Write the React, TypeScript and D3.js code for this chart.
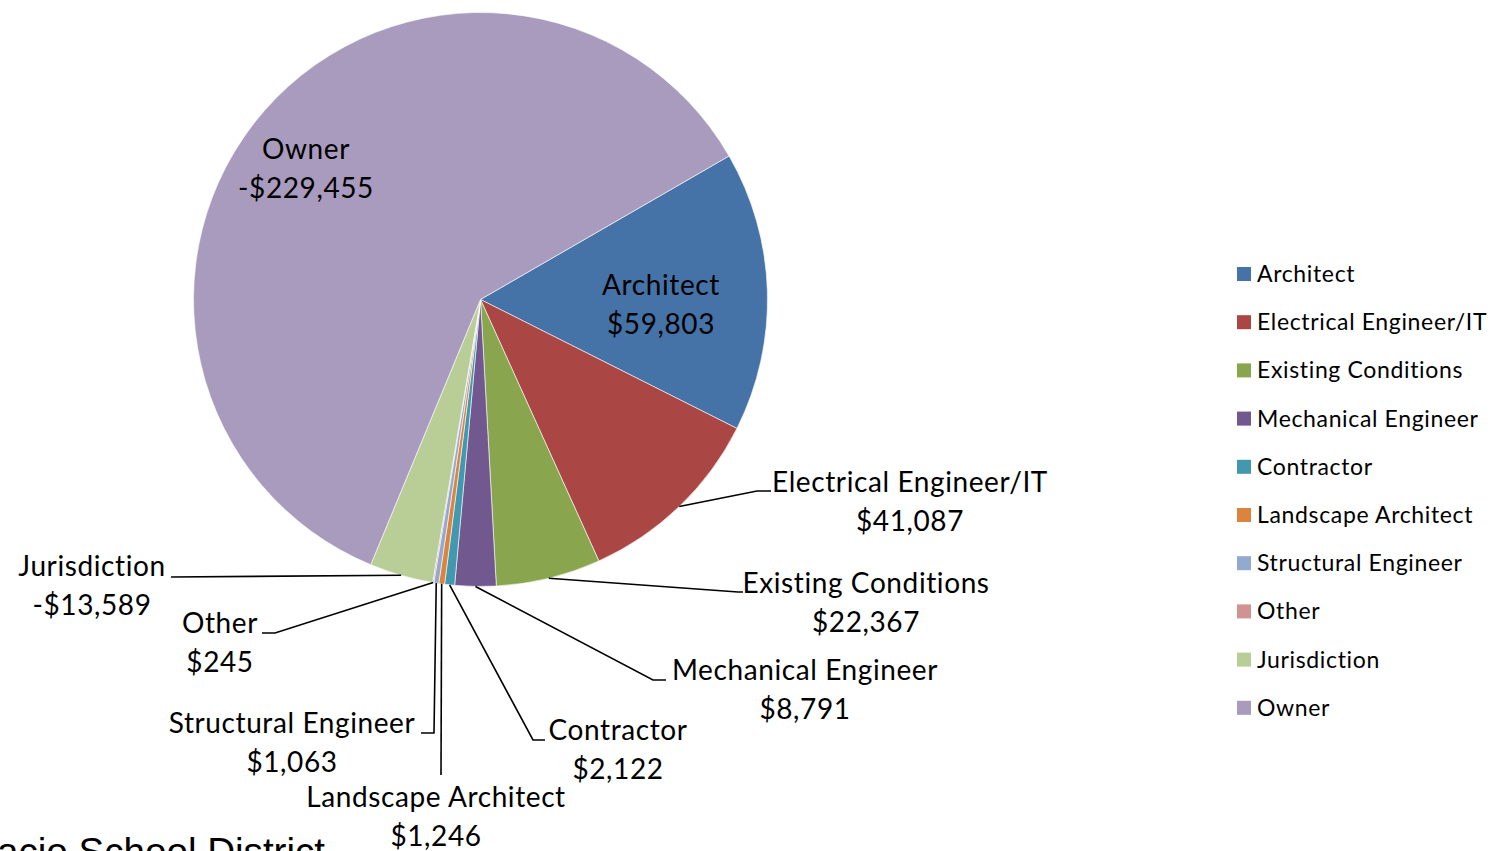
import React from "react";
import * as d3 from "d3";

const categories = [
  "Architect",
  "Electrical Engineer/IT",
  "Existing Conditions",
  "Mechanical Engineer",
  "Contractor",
  "Landscape Architect",
  "Structural Engineer",
  "Other",
  "Jurisdiction",
  "Owner",
];
const amounts = [59803, 41087, 22367, 8791, 2122, 1246, 1063, 245, -13589, -229455];
const colors = [
  "#4572A7",
  "#AA4643",
  "#89A54E",
  "#71588F",
  "#4198AF",
  "#DB843D",
  "#93A9CF",
  "#D19392",
  "#B9CD96",
  "#A99BBD",
];

const W = 1494;
const H = 851;
const cx = 480.5;
const cy = 299.5;
const R = 287;
const labelFont = "Lato, 'Open Sans', sans-serif";

// label placement: center x, center y of first line, leader elbow + end (null = inside label)
const labelLayout: { x: number; y: number; leader: [number, number][] | null }[] = [
  { x: 661, y: 285, leader: null },
  { x: 910, y: 482, leader: [[757, 491], [771, 491]] },
  { x: 866, y: 583, leader: [[738, 592], [743, 592]] },
  { x: 805, y: 670, leader: [[653, 680], [666, 680]] },
  { x: 618, y: 730, leader: [[533, 740], [545, 740]] },
  { x: 436, y: 797, leader: [[441, 775]] },
  { x: 292, y: 723, leader: [[434, 733], [421, 733]] },
  { x: 220, y: 623, leader: [[275, 633], [262, 633]] },
  { x: 92, y: 566, leader: [[171, 577]] },
  { x: 306, y: 149, leader: null },
];

const money = (v: number) => `${v < 0 ? "-" : ""}$${d3.format(",")(Math.abs(v))}`;

export default function App() {
  const start = (60 * Math.PI) / 180;
  const pie = d3
    .pie<number>()
    .sort(null)
    .value((d) => Math.abs(d))
    .startAngle(start)
    .endAngle(start + 2 * Math.PI);
  const arcs = pie(amounts);
  const arc = d3.arc<d3.PieArcDatum<number>>().innerRadius(0).outerRadius(R);

  return (
    <svg
      width={W}
      height={H}
      style={{ position: "absolute", left: 0, top: 0, background: "#fff" }}
    >
      <g transform={`translate(${cx},${cy})`}>
        {arcs.map((a, i) => (
          <path key={i} d={arc(a) || ""} fill={colors[i]} stroke="#fff" strokeWidth={0.6} />
        ))}
      </g>

      {arcs.map((a, i) => {
        const lay = labelLayout[i];
        if (!lay.leader) return null;
        const mid = (a.startAngle + a.endAngle) / 2;
        const p0: [number, number] = [cx + R * Math.sin(mid), cy - R * Math.cos(mid)];
        const pts = [p0, ...lay.leader];
        return (
          <polyline
            key={"l" + i}
            points={pts.map((p) => p.join(",")).join(" ")}
            fill="none"
            stroke="#000"
            strokeWidth={1.6}
          />
        );
      })}

      {categories.map((c, i) => {
        const lay = labelLayout[i];
        return (
          <text
            key={"t" + i}
            x={lay.x}
            y={lay.y}
            textAnchor="middle"
            fontFamily={labelFont}
            fontSize={28}
            letterSpacing={0.6}
            fill="#000"
          >
            <tspan x={lay.x} dy="0.35em">
              {c}
            </tspan>
            <tspan x={lay.x} dy="1.39em">
              {money(amounts[i])}
            </tspan>
          </text>
        );
      })}

      <g transform="translate(1237,274)">
        {categories.map((c, i) => (
          <g key={"g" + i} transform={`translate(0,${i * 48.2})`}>
            <rect x={0} y={-7} width={14} height={14} fill={colors[i]} />
            <text
              x={20}
              y={0}
              dy="0.35em"
              fontFamily={labelFont}
              fontSize={23}
              letterSpacing={0.65}
              fill="#000"
            >
              {c}
            </text>
          </g>
        ))}
      </g>

      <text x={-3} y={865} fontFamily="Arial, 'Liberation Sans', sans-serif" fontSize={38.6} fill="#000">
        acio School District
      </text>
    </svg>
  );
}
